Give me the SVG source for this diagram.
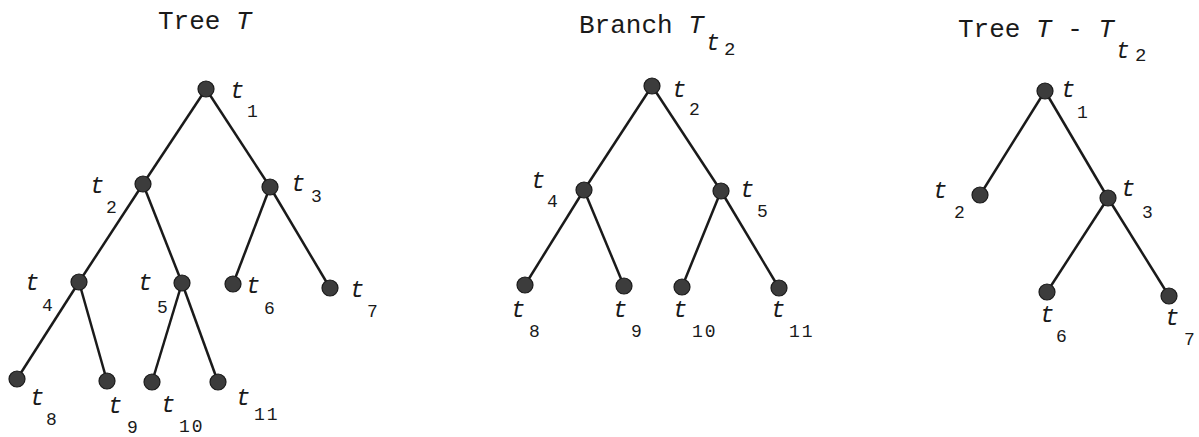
<svg xmlns="http://www.w3.org/2000/svg" width="1199" height="437" viewBox="0 0 1199 437">
<style>
.title{font-family:"Liberation Mono","DejaVu Sans Mono",monospace;font-size:26px;fill:#1a1a1a}
.it{font-style:italic}
.t{font-family:"Liberation Mono","DejaVu Sans Mono",monospace;font-size:24px;font-style:italic;fill:#1a1a1a}
.s{font-family:"Liberation Mono","DejaVu Sans Mono",monospace;font-size:18px;fill:#1a1a1a;letter-spacing:2px}
.sub{font-family:"Liberation Mono","DejaVu Sans Mono",monospace;font-size:23px;font-style:italic;fill:#1a1a1a}
.sub2{font-family:"Liberation Mono","DejaVu Sans Mono",monospace;font-size:19px;fill:#1a1a1a}
.n{fill:#3c3c3c;stroke:#1a1a1a;stroke-width:1.2}
.e{stroke:#1a1a1a;stroke-width:2.5;fill:none}
</style>
<rect width="1199" height="437" fill="#fff"/>
<g id="titles">
<text class="title" x="158" y="29">Tree <tspan class="it">T</tspan></text>
<text class="title" x="579" y="33">Branch <tspan class="it">T</tspan></text>
<text class="sub" x="706" y="50">t</text><text class="sub2" x="724" y="55">2</text>
<text class="title" x="958" y="37">Tree <tspan class="it">T</tspan> - <tspan class="it">T</tspan></text>
<text class="sub" x="1116" y="58">t</text><text class="sub2" x="1135" y="61">2</text>
</g>
<g id="connectors">
<line class="e" x1="206" y1="89" x2="143" y2="184"/>
<line class="e" x1="206" y1="89" x2="270" y2="187"/>
<line class="e" x1="143" y1="184" x2="79" y2="282"/>
<line class="e" x1="143" y1="184" x2="182" y2="283"/>
<line class="e" x1="270" y1="187" x2="233" y2="284"/>
<line class="e" x1="270" y1="187" x2="330" y2="288"/>
<line class="e" x1="79" y1="282" x2="17" y2="379"/>
<line class="e" x1="79" y1="282" x2="107" y2="381"/>
<line class="e" x1="182" y1="283" x2="152" y2="382"/>
<line class="e" x1="182" y1="283" x2="218" y2="382"/>
<line class="e" x1="652" y1="86" x2="584" y2="190"/>
<line class="e" x1="652" y1="86" x2="721" y2="191"/>
<line class="e" x1="584" y1="190" x2="525" y2="285"/>
<line class="e" x1="584" y1="190" x2="624" y2="286"/>
<line class="e" x1="721" y1="191" x2="682" y2="287"/>
<line class="e" x1="721" y1="191" x2="779" y2="288"/>
<line class="e" x1="1045" y1="91" x2="980" y2="195"/>
<line class="e" x1="1045" y1="91" x2="1108" y2="198"/>
<line class="e" x1="1108" y1="198" x2="1047" y2="292"/>
<line class="e" x1="1108" y1="198" x2="1169" y2="296"/>
</g>
<g id="treeT">
<g id="T-t1"><circle class="n" cx="206" cy="89" r="8"/><text class="t" x="230" y="98">t</text><text class="s" x="247" y="117">1</text></g>
<g id="T-t2"><circle class="n" cx="143" cy="184" r="8"/><text class="t" x="90" y="193">t</text><text class="s" x="106" y="213">2</text></g>
<g id="T-t3"><circle class="n" cx="270" cy="187" r="8"/><text class="t" x="291" y="191">t</text><text class="s" x="311" y="202">3</text></g>
<g id="T-t4"><circle class="n" cx="79" cy="282" r="8"/><text class="t" x="25" y="290">t</text><text class="s" x="42" y="311">4</text></g>
<g id="T-t5"><circle class="n" cx="182" cy="283" r="8"/><text class="t" x="138" y="290">t</text><text class="s" x="157" y="313">5</text></g>
<g id="T-t6"><circle class="n" cx="233" cy="284" r="8"/><text class="t" x="246" y="293">t</text><text class="s" x="264" y="314">6</text></g>
<g id="T-t7"><circle class="n" cx="330" cy="288" r="8"/><text class="t" x="350" y="297">t</text><text class="s" x="367" y="317">7</text></g>
<g id="T-t8"><circle class="n" cx="17" cy="379" r="8"/><text class="t" x="30" y="405">t</text><text class="s" x="46" y="425">8</text></g>
<g id="T-t9"><circle class="n" cx="107" cy="381" r="8"/><text class="t" x="108" y="413">t</text><text class="s" x="127" y="433">9</text></g>
<g id="T-t10"><circle class="n" cx="152" cy="382" r="8"/><text class="t" x="161" y="412">t</text><text class="s" x="179" y="432">10</text></g>
<g id="T-t11"><circle class="n" cx="218" cy="382" r="8"/><text class="t" x="236" y="405">t</text><text class="s" x="254" y="420">11</text></g>
</g>
<g id="branch">
<g id="B-t2"><circle class="n" cx="652" cy="86" r="8"/><text class="t" x="672" y="97">t</text><text class="s" x="689" y="115">2</text></g>
<g id="B-t4"><circle class="n" cx="584" cy="190" r="8"/><text class="t" x="531" y="188">t</text><text class="s" x="547" y="207">4</text></g>
<g id="B-t5"><circle class="n" cx="721" cy="191" r="8"/><text class="t" x="740" y="197">t</text><text class="s" x="757" y="217">5</text></g>
<g id="B-t8"><circle class="n" cx="525" cy="285" r="8"/><text class="t" x="511" y="317">t</text><text class="s" x="529" y="337">8</text></g>
<g id="B-t9"><circle class="n" cx="624" cy="286" r="8"/><text class="t" x="613" y="317">t</text><text class="s" x="631" y="337">9</text></g>
<g id="B-t10"><circle class="n" cx="682" cy="287" r="8"/><text class="t" x="673" y="317">t</text><text class="s" x="692" y="337">10</text></g>
<g id="B-t11"><circle class="n" cx="779" cy="288" r="8"/><text class="t" x="771" y="317">t</text><text class="s" x="789" y="337">11</text></g>
</g>
<g id="pruned">
<g id="P-t1"><circle class="n" cx="1045" cy="91" r="8"/><text class="t" x="1061" y="97">t</text><text class="s" x="1077" y="118">1</text></g>
<g id="P-t2"><circle class="n" cx="980" cy="195" r="8"/><text class="t" x="933" y="198">t</text><text class="s" x="954" y="218">2</text></g>
<g id="P-t3"><circle class="n" cx="1108" cy="198" r="8"/><text class="t" x="1121" y="196">t</text><text class="s" x="1142" y="218">3</text></g>
<g id="P-t6"><circle class="n" cx="1047" cy="292" r="8"/><text class="t" x="1040" y="322">t</text><text class="s" x="1056" y="342">6</text></g>
<g id="P-t7"><circle class="n" cx="1169" cy="296" r="8"/><text class="t" x="1165" y="325">t</text><text class="s" x="1184" y="345">7</text></g>
</g>
</svg>
